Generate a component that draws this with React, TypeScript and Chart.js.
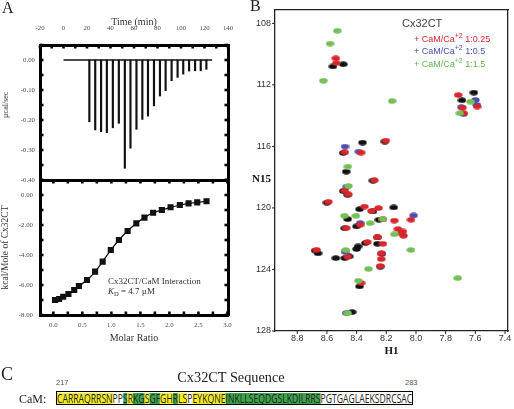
import React, { useEffect, useRef } from 'react';
import { Chart, registerables } from 'chart.js';

Chart.register(...registerables);

// ---------------- Panel A (top): raw ITC thermogram ----------------
const injectionTimes = [22.0, 27.0, 32.0, 36.9, 42.0, 47.1, 52.2, 57.0, 62.1, 67.1, 71.9, 77.0, 82.1, 86.9, 92.0, 97.1, 101.9, 106.9, 112.0, 116.8, 121.6];
const injectionPeaks = [-0.206, -0.233, -0.239, -0.242, -0.226, -0.211, -0.361, -0.294, -0.231, -0.198, -0.187, -0.153, -0.12, -0.102, -0.069, -0.058, -0.047, -0.037, -0.036, -0.036, -0.031];
const baselineTimes = [0.0, 126.5];
const baselineValues = [0, 0];

// ---------------- Panel A (bottom): integrated heats ----------------
const molarRatios = [0.03, 0.10, 0.17, 0.26, 0.36, 0.44, 0.58, 0.72, 0.85, 0.99, 1.13, 1.28, 1.43, 1.57, 1.72, 1.87, 2.02, 2.18, 2.33, 2.48, 2.64];
const heats = [-7.0, -6.93, -6.78, -6.6, -6.33, -6.07, -5.67, -5.11, -4.44, -3.67, -3.0, -2.4, -1.89, -1.51, -1.18, -1.0, -0.82, -0.67, -0.56, -0.49, -0.42];

// ---------------- Panel B: 1H-15N HSQC peaks ----------------
const freeH = [8.56, 8.49, 7.61, 7.69, 8.36, 8.21, 8.49, 8.47, 8.29, 8.49, 8.46, 8.60, 8.38, 8.29, 8.15, 8.46, 8.40, 8.25, 8.48, 8.26, 8.26, 8.34, 8.39, 8.40, 8.68, 8.66, 8.45, 8.54, 8.48, 8.23, 8.24, 8.38, 8.43];
const freeN = [110.8, 110.66, 112.5, 113.0, 115.75, 115.68, 116.42, 117.64, 118.22, 118.91, 119.15, 119.65, 120.08, 120.23, 119.97, 120.73, 121.2, 120.77, 121.32, 121.92, 122.33, 122.28, 122.5, 122.67, 122.77, 122.95, 123.15, 123.26, 123.26, 122.98, 123.81, 125.1, 126.77];
const camQuarterH = [8.54, 8.537, 7.716, 7.588, 7.687, 7.678, 8.203, 8.48, 8.37, 8.28, 8.48, 8.455, 8.59, 8.347, 8.253, 8.30, 8.223, 8.146, 8.034, 8.376, 8.47, 8.122, 8.088, 8.084, 8.10, 8.26, 8.327, 8.223, 8.67, 8.46, 8.234, 8.234, 8.241, 8.37];
const camQuarterN = [110.27, 110.58, 112.66, 113.41, 113.48, 113.84, 115.62, 116.38, 116.4, 118.2, 118.88, 119.12, 119.6, 119.91, 120.01, 120.2, 120.75, 120.82, 120.77, 121.1, 121.3, 121.37, 121.53, 121.81, 121.65, 121.9, 122.22, 122.33, 122.72, 123.17, 122.95, 123.32, 123.78, 124.88];
const camHalfH = [7.599, 7.59, 7.694, 7.68, 8.478, 8.385, 8.466, 8.376, 8.016, 8.478, 8.47];
const camHalfN = [112.98, 113.3, 113.45, 113.9, 116.01, 116.34, 118.61, 120.98, 120.49, 122.85, 126.83];
const camExcessH = [8.53, 8.579, 8.624, 8.16, 7.633, 7.705, 8.459, 8.455, 8.482, 8.405, 8.309, 8.223, 8.146, 8.473, 8.034, 8.32, 7.719, 8.388, 8.46];
const camExcessN = [108.48, 109.32, 111.73, 113.05, 113.09, 113.84, 117.31, 118.57, 120.51, 120.51, 120.99, 120.73, 121.71, 122.73, 122.73, 123.97, 124.56, 124.73, 126.83];
const legendRatios = ['1:0.25', '1:0.5', '1:1.5'];

// ---------------- Panel C: sequence ----------------
const seqFirst = 217;
const seqLast = 283;
const camSequence = 'CARRAQRRSNPPSRKGSGFGHRLSPEYKQNEINKLLSEQDGSLKDILRRSPGTGAGLAEKSDRCSAC';
const segmentLengths = [10, 2, 1, 1, 2, 1, 2, 2, 1, 2, 1, 6, 19, 17];
const segmentKinds = ['y', 'w', 'g', 'y', 'g', 'y', 'g', 'y', 'g', 'y', 'w', 'y', 'g', 'w'];

// ---------------- styling ----------------
const SERIF = '"Liberation Serif", "Times New Roman", serif';
const SANS = '"Liberation Sans", Arial, sans-serif';
const TICK_A = '#4a4a4a';
const RED = '#d8262c';
const BLUE = '#4b4fa6';
const GREEN = '#74bf57';
const BLACK = '#111111';
const SEG_COLORS: Record<string, string> = { y: '#f6ec26', g: '#3fa34d', w: '#ffffff' };

const isMult = (v: number, step: number) => {
  const r = v / step;
  return Math.abs(r - Math.round(r)) < 1e-6;
};

const fixBox = (size: number) => (s: any) => {
  if (s.isHorizontal()) s.height = size;
  else s.width = size;
  s.paddingLeft = 0;
  s.paddingRight = 0;
  s.paddingTop = 0;
  s.paddingBottom = 0;
};

// tick positions: every multiple of `step` inside the axis range
const stepTicks = (step: number) => (s: any) => {
  const out: { value: number }[] = [];
  const k0 = Math.ceil(s.min / step - 1e-9);
  const k1 = Math.floor(s.max / step + 1e-9);
  for (let k = k0; k <= k1; k++) out.push({ value: Math.round(k * step * 1e6) / 1e6 });
  s.ticks = out;
};

const tickMarks = {
  id: 'tickMarks',
  afterDraw(chart: any, _args: any, opts: any) {
    const axes = (opts && opts.axes) || {};
    const { ctx, chartArea: a } = chart;
    ctx.save();
    ctx.strokeStyle = (opts && opts.color) || '#000';
    Object.keys(axes).forEach((id) => {
      const s = chart.scales[id];
      const c = axes[id];
      if (!s) return;
      ctx.lineWidth = c.width;
      s.ticks.forEach((t: any) => {
        const p = s.getPixelForValue(t.value);
        ctx.beginPath();
        if (s.position === 'left') {
          ctx.moveTo(a.left - c.out, p);
          ctx.lineTo(a.left + c.inn, p);
        } else if (s.position === 'right') {
          ctx.moveTo(a.right + c.out, p);
          ctx.lineTo(a.right - c.inn, p);
        } else if (s.position === 'top') {
          ctx.moveTo(p, a.top - c.out);
          ctx.lineTo(p, a.top + c.inn);
        } else {
          ctx.moveTo(p, a.bottom + c.out);
          ctx.lineTo(p, a.bottom - c.inn);
        }
        ctx.stroke();
      });
    });
    ctx.restore();
  },
};

const boxBorder = (w: number, color = '#000') => ({ display: true, width: w, color });
const noGrid = { display: false, drawTicks: false };

function ellipse(color: string, w: number, h: number) {
  const c = document.createElement('canvas');
  c.width = w;
  c.height = h;
  const g = c.getContext('2d')!;
  g.fillStyle = color;
  g.beginPath();
  g.ellipse(w / 2, h / 2, w / 2 - 0.3, h / 2 - 0.3, 0, 0, Math.PI * 2);
  g.fill();
  return c;
}

function useChart(make: (c: HTMLCanvasElement) => Chart) {
  const ref = useRef<HTMLCanvasElement | null>(null);
  useEffect(() => {
    if (!ref.current) return;
    const ch = make(ref.current);
    return () => ch.destroy();
  }, []);
  return ref;
}

function Canvas({ x, y, w, h, make }: any) {
  const ref = useChart(make);
  return (
    <div style={{ position: 'absolute', left: x, top: y, width: w, height: h }}>
      <canvas ref={ref} width={w} height={h} style={{ width: w, height: h, display: 'block' }} />
    </div>
  );
}

const Txt = ({ x, y, size, family = SERIF, color = '#222', weight = 'normal', align = 'left', children, rotate = 0 }: any) => (
  <div
    style={{
      position: 'absolute',
      left: x,
      top: y,
      transform: `translate(${align === 'center' ? '-50%' : align === 'right' ? '-100%' : '0'}, -50%)${rotate ? ` rotate(${rotate}deg)` : ''}`,
      fontFamily: family,
      fontSize: size,
      lineHeight: 1,
      color,
      fontWeight: weight,
      whiteSpace: 'nowrap',
    }}
  >
    {children}
  </div>
);

const A_TICK = { out: 0, inn: 3.5, width: 2.6 };

// ---------------- chart factories ----------------
function makeThermogram(canvas: HTMLCanvasElement) {
  const tf = { family: SERIF, size: 6.8 };
  return new Chart(canvas, {
    type: 'bar',
    data: {
      datasets: [
        {
          type: 'line',
          data: baselineTimes.map((t, i) => ({ x: t, y: baselineValues[i] })),
          borderColor: BLACK,
          borderWidth: 1.6,
          pointRadius: 0,
          xAxisID: 'xt',
          yAxisID: 'yl',
        } as any,
        {
          type: 'bar',
          data: injectionTimes.map((t, i) => ({ x: t, y: [0, injectionPeaks[i]] })),
          backgroundColor: BLACK,
          borderWidth: 0,
          barThickness: 1.5,
          xAxisID: 'xt',
          yAxisID: 'yl',
        } as any,
      ],
    },
    options: {
      animation: false,
      responsive: false,
      devicePixelRatio: 1,
      plugins: { legend: { display: false }, tooltip: { enabled: false }, tickMarks: { axes: { xt: A_TICK, yl: A_TICK, yr: A_TICK } } } as any,
      scales: {
        xt: {
          type: 'linear', position: 'top', min: -20, max: 140, offset: false,
          afterBuildTicks: stepTicks(10),
          ticks: { autoSkip: false, maxRotation: 0, minRotation: 0, padding: 12.4, color: TICK_A, font: tf,
            callback: (v: any) => (isMult(v, 20) ? String(v) : '') },
          grid: noGrid, border: boxBorder(3),
          title: { display: true, text: 'Time (min)', color: '#333', font: { family: SERIF, size: 10 }, padding: { top: 16.5, bottom: 0 } },
          afterFit: fixBox(45),
        },
        xb: {
          type: 'linear', position: 'bottom', min: -20, max: 140, offset: false,
          ticks: { display: false }, grid: noGrid, border: boxBorder(3), afterFit: fixBox(10),
        },
        yl: {
          type: 'linear', position: 'left', min: -0.4, max: 0.05,
          afterBuildTicks: stepTicks(0.05),
          ticks: { autoSkip: false, padding: 5, color: TICK_A, font: tf,
            callback: (v: any) => (isMult(v, 0.1) && v < 0.04 ? Number(v).toFixed(2) : '') },
          grid: noGrid, border: boxBorder(3), afterFit: fixBox(40),
        },
        yr: {
          type: 'linear', position: 'right', min: -0.4, max: 0.05,
          afterBuildTicks: stepTicks(0.05),
          ticks: { display: false }, grid: noGrid, border: boxBorder(3), afterFit: fixBox(12),
        },
      } as any,
    },
    plugins: [tickMarks as any],
  });
}

function makeBinding(canvas: HTMLCanvasElement) {
  const tf = { family: SERIF, size: 6.8 };
  return new Chart(canvas, {
    type: 'scatter',
    data: {
      datasets: [
        {
          data: molarRatios.map((m, i) => ({ x: m, y: heats[i] })),
          showLine: true,
          borderColor: BLACK,
          backgroundColor: BLACK,
          borderWidth: 1.3,
          cubicInterpolationMode: 'monotone',
          pointStyle: 'rect',
          pointRadius: 3.4,
          xAxisID: 'xb',
          yAxisID: 'yl',
        } as any,
      ],
    },
    options: {
      animation: false,
      responsive: false,
      devicePixelRatio: 1,
      plugins: { legend: { display: false }, tooltip: { enabled: false }, tickMarks: { axes: { xt: A_TICK, xb: A_TICK, yl: A_TICK, yr: A_TICK } } } as any,
      scales: {
        xb: {
          type: 'linear', position: 'bottom', min: -0.23, max: 3.01, offset: false,
          afterBuildTicks: stepTicks(0.25),
          ticks: { autoSkip: false, maxRotation: 0, minRotation: 0, padding: 6, color: TICK_A, font: tf,
            callback: (v: any) => (isMult(v, 0.5) ? Number(v).toFixed(1) : '') },
          grid: noGrid, border: boxBorder(3),
          title: { display: true, text: 'Molar Ratio', color: '#333', font: { family: SERIF, size: 10 }, padding: { top: 0, bottom: 6 } },
          afterFit: fixBox(35),
        },
        xt: {
          type: 'linear', position: 'top', min: -0.23, max: 3.01, offset: false,
          afterBuildTicks: stepTicks(0.25),
          ticks: { display: false }, grid: noGrid, border: boxBorder(3), afterFit: fixBox(10),
        },
        yl: {
          type: 'linear', position: 'left', min: -8, max: 1,
          afterBuildTicks: stepTicks(1),
          ticks: { autoSkip: false, padding: 7, color: TICK_A, font: tf,
            callback: (v: any) => (isMult(v, 2) ? Number(v).toFixed(2) : '') },
          grid: noGrid, border: boxBorder(3),
          title: { display: true, text: 'kcal/Mole of Cx32CT', color: '#333', font: { family: SERIF, size: 9.5 }, padding: { top: 0, bottom: 0 } },
          afterFit: fixBox(40),
        },
        yr: {
          type: 'linear', position: 'right', min: -8, max: 1,
          afterBuildTicks: stepTicks(1),
          ticks: { display: false }, grid: noGrid, border: boxBorder(3), afterFit: fixBox(12),
        },
      } as any,
    },
    plugins: [tickMarks as any],
  });
}

function makeHsqc(canvas: HTMLCanvasElement) {
  const tf = { family: SANS, size: 9 };
  const series = (hs: number[], ns: number[], color: string) => ({
    data: hs.map((h, i) => ({ x: h, y: ns[i] })),
    pointStyle: ellipse(color, 9, 6),
    pointRadius: 3,
    showLine: false,
  });
  const B_TICK = { out: 3, inn: 0, width: 1 };
  return new Chart(canvas, {
    type: 'scatter',
    data: {
      datasets: [
        series(camExcessH, camExcessN, GREEN),
        series(camQuarterH, camQuarterN, RED),
        series(camHalfH, camHalfN, BLUE),
        series(freeH, freeN, BLACK),
      ] as any,
    },
    options: {
      animation: false,
      responsive: false,
      devicePixelRatio: 1,
      plugins: { legend: { display: false }, tooltip: { enabled: false }, tickMarks: { color: '#222', axes: { x: B_TICK, y: B_TICK } } } as any,
      scales: {
        x: {
          type: 'linear', position: 'bottom', reverse: true, min: 7.38, max: 8.95, offset: false,
          afterBuildTicks: stepTicks(0.2),
          ticks: { autoSkip: false, maxRotation: 0, minRotation: 0, padding: 2.6, color: '#333', font: tf,
            callback: (v: any) => Number(v).toFixed(1) },
          grid: noGrid, border: boxBorder(1.3, '#222'),
          title: { display: true, text: 'H1', color: '#111', font: { family: SERIF, size: 11, weight: 'bold' }, padding: { top: 0, bottom: 2.4 } },
          afterFit: fixBox(29),
        },
        x2: {
          type: 'linear', position: 'top', reverse: true, min: 7.38, max: 8.95, offset: false,
          ticks: { display: false }, grid: noGrid, border: boxBorder(1.3, '#222'), afterFit: fixBox(10),
        },
        y: {
          type: 'linear', position: 'left', reverse: true, min: 107.13, max: 128,
          afterBuildTicks: stepTicks(4),
          ticks: { autoSkip: false, padding: 4, color: '#333', font: tf,
            callback: (v: any) => String(Math.round(v)) },
          grid: noGrid, border: boxBorder(1.3, '#222'), afterFit: fixBox(25),
        },
        y2: {
          type: 'linear', position: 'right', reverse: true, min: 107.13, max: 128,
          ticks: { display: false }, grid: noGrid, border: boxBorder(1.3, '#222'), afterFit: fixBox(6),
        },
      } as any,
    },
    plugins: [tickMarks as any],
  });
}

// ---------------- sequence strip ----------------
function SequenceStrip() {
  const inner = useRef<HTMLDivElement | null>(null);
  const boxW = 357;
  useEffect(() => {
    const el = inner.current;
    if (!el) return;
    const w = el.offsetWidth;
    if (w > 0) el.style.transform = `scaleX(${(boxW - 2) / w})`;
  }, []);
  let pos = 0;
  const segs = segmentLengths.map((len, i) => {
    const text = camSequence.slice(pos, pos + len);
    pos += len;
    return (
      <span key={i} style={{ display: 'inline-block', background: SEG_COLORS[segmentKinds[i]], height: 12, lineHeight: '12.5px', verticalAlign: 'top' }}>
        {text}
      </span>
    );
  });
  return (
    <div style={{ position: 'absolute', left: 56, top: 391, width: boxW, height: 14, border: '1px solid #000', boxSizing: 'border-box', overflow: 'hidden', background: '#fff' }}>
      <div ref={inner} style={{ display: 'inline-block', whiteSpace: 'nowrap', transformOrigin: '0 0', fontFamily: '"Open Sans", "Liberation Sans", sans-serif', fontSize: 12.5, color: '#222' }}>
        {segs}
      </div>
    </div>
  );
}

export default function App() {
  const legendColors = [RED, BLUE, '#63b850'];
  return (
    <div style={{ position: 'absolute', left: 0, top: 0, width: 514, height: 409, background: '#fff', overflow: 'hidden' }}>
      <Canvas x={0} y={0} w={240} h={190} make={makeThermogram} />
      <Canvas x={0} y={170} w={240} h={180} make={makeBinding} />
      <Canvas x={250} y={0} w={264} h={360} make={makeHsqc} />

      <Txt x={2} y={8} size={16}>A</Txt>
      <Txt x={250} y={6} size={16}>B</Txt>
      <Txt x={1} y={374} size={18}>C</Txt>

      <Txt x={6} y={105} size={8} align="center" rotate={-90} color="#333">µcal/sec</Txt>
      <Txt x={108} y={281} size={9} color="#333">Cx32CT/CaM Interaction</Txt>
      <Txt x={108} y={292} size={9} color="#333">
        <i>K</i><span style={{ fontSize: 6.5, verticalAlign: -2 }}>D</span> = 4.7 µM
      </Txt>

      <Txt x={252} y={178} size={11} weight="bold" color="#111">N15</Txt>
      <Txt x={402} y={23} size={11} family={SANS} color="#444">Cx32CT</Txt>
      {legendRatios.map((r, i) => (
        <Txt key={r} x={414} y={38 + i * 12.3} size={9} family={SANS} color={legendColors[i]}>
          + CaM/Ca<span style={{ fontSize: 7, verticalAlign: 3.5 }}>+2</span> {r}
        </Txt>
      ))}

      <Txt x={231} y={377} size={14.3} color="#222" align="center">Cx32CT Sequence</Txt>
      <Txt x={56} y={383} size={7.5} family={SANS} color="#555">{seqFirst}</Txt>
      <Txt x={405} y={383} size={7.5} family={SANS} color="#555">{seqLast}</Txt>
      <Txt x={19} y={399} size={12} color="#222">CaM:</Txt>
      <SequenceStrip />
    </div>
  );
}
